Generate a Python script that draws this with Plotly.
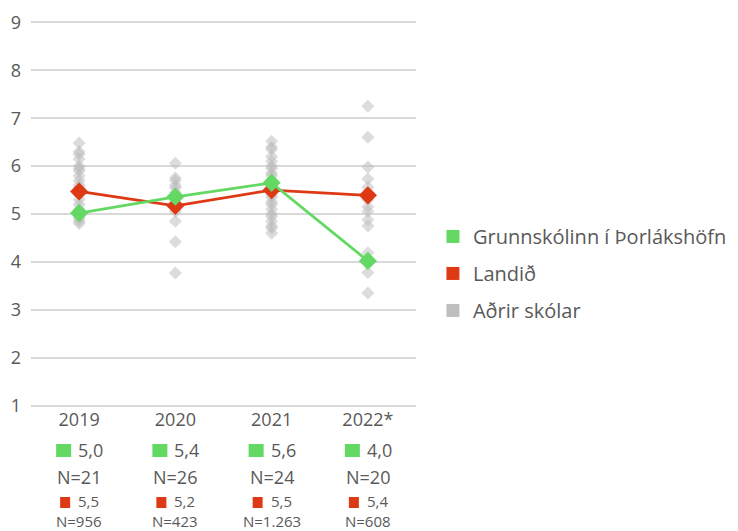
import plotly.graph_objects as go

categories = ["2019", "2020", "2021", "2022*"]
school_values = [5.02, 5.36, 5.65, 4.02]
country_values = [5.47, 5.17, 5.50, 5.39]
school_labels = ["5,0", "5,4", "5,6", "4,0"]
school_n = ["21", "26", "24", "20"]
country_labels = ["5,5", "5,2", "5,5", "5,4"]
country_n = ["956", "423", "1.263", "608"]

others_2019 = [6.48, 6.30, 6.25, 6.15, 6.00, 5.95, 5.90, 5.80, 5.70, 5.60, 5.55,
               5.50, 5.40, 5.30, 5.20, 5.10, 5.00, 4.95, 4.90, 4.85, 4.80]
others_2020 = [6.06, 5.75, 5.70, 5.60, 5.55, 5.45, 5.30, 5.15, 5.05, 4.85, 4.42, 3.77]
others_2021 = [6.52, 6.40, 6.35, 6.20, 6.10, 6.00, 5.95, 5.85, 5.80, 5.70, 5.60, 5.50,
               5.40, 5.35, 5.25, 5.20, 5.10, 5.00, 4.95, 4.85, 4.75, 4.70, 4.60]
others_2022 = [7.25, 6.60, 5.98, 5.73, 5.56, 5.45, 5.30, 5.15, 5.05, 4.88, 4.75,
               4.19, 3.78, 3.35]
others = [others_2019, others_2020, others_2021, others_2022]

legend_names = ["Grunnskólinn í Þorlákshöfn", "Landið", "Aðrir skólar"]

GREEN = "#63d963"
RED = "#dd3914"
GRAY = "#bfbfbf"
TEXT = "#595959"
FONT = "Open Sans"

ox, oy = [], []
for cat, vals in zip(categories, others):
    ox += [cat] * len(vals)
    oy += vals

fig = go.Figure()
fig.add_trace(go.Scatter(
    x=ox, y=oy, mode="markers", showlegend=False, hoverinfo="skip",
    marker=dict(symbol="diamond", size=10, color="rgba(185,185,185,0.5)", line=dict(width=0)),
))
fig.add_trace(go.Scatter(
    x=categories, y=country_values, mode="lines+markers", showlegend=False,
    line=dict(color=RED, width=2.8),
    marker=dict(symbol="diamond", size=14, color=RED),
))
fig.add_trace(go.Scatter(
    x=categories, y=school_values, mode="lines+markers", showlegend=False,
    line=dict(color=GREEN, width=2.8),
    marker=dict(symbol="diamond", size=14, color=GREEN),
))

for name, col in zip(legend_names, [GREEN, RED, GRAY]):
    fig.add_trace(go.Scatter(
        x=[None], y=[None], mode="markers", name=name, legendgroup=name,
        marker=dict(symbol="square", size=13, color=col),
    ))

annotations = []
shapes = []
for i, cat in enumerate(categories):
    # colour keys under each year
    shapes.append(dict(type="rect", xref="x", yref="paper", xsizemode="pixel", ysizemode="pixel",
                       xanchor=i, yanchor=0, x0=-23, x1=-8, y0=-50, y1=-37,
                       fillcolor=GREEN, line=dict(width=0)))
    shapes.append(dict(type="rect", xref="x", yref="paper", xsizemode="pixel", ysizemode="pixel",
                       xanchor=i, yanchor=0, x0=-19, x1=-9, y0=-101, y1=-90,
                       fillcolor=RED, line=dict(width=0)))
    for text, size, shift, anchor, xs in [
        (school_labels[i], 18, -43, "left", -2),
        (f"N={school_n[i]}", 18, -70, "center", 0),
        (country_labels[i], 15, -94, "left", -2),
        (f"N={country_n[i]}", 15, -114, "center", 0),
    ]:
        annotations.append(dict(
            x=i, y=0, xref="x", yref="paper", text=text, showarrow=False,
            xanchor=anchor, yanchor="middle", yshift=shift, xshift=xs, borderpad=0,
            font=dict(family=FONT, size=size, color=TEXT),
        ))

fig.update_layout(
    width=730, height=523,
    margin=dict(l=23, r=322, t=13, b=124, autoexpand=False),
    paper_bgcolor="white", plot_bgcolor="white",
    font=dict(family=FONT, size=18, color=TEXT),
    showlegend=True,
    legend=dict(x=1.044, xanchor="left", y=0.346, yanchor="middle",
                font=dict(family=FONT, size=20, color=TEXT),
                tracegroupgap=8, itemwidth=30, bgcolor="rgba(0,0,0,0)"),
    annotations=annotations,
    shapes=shapes,
)
fig.update_xaxes(type="category", categoryorder="array", categoryarray=categories,
                 range=[-0.5, 3.5], automargin=False,
                 showgrid=False, zeroline=False, showline=False, ticks="",
                 tickfont=dict(family=FONT, size=18, color=TEXT))
fig.update_yaxes(range=[0.97, 9.03], tickvals=[1, 2, 3, 4, 5, 6, 7, 8, 9], automargin=False,
                 showgrid=True, gridcolor="#d9d9d9", gridwidth=2,
                 zeroline=False, showline=False, ticks="", ticklabelstandoff=9,
                 tickfont=dict(family=FONT, size=18, color=TEXT))

fig.write_html("out.html")
